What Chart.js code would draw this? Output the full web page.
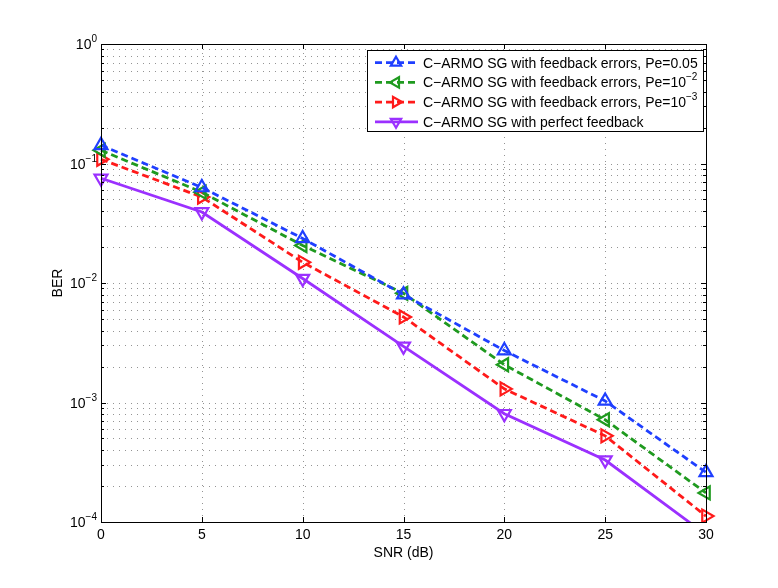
<!DOCTYPE html>
<html>
<head>
<meta charset="utf-8">
<script src="https://cdn.jsdelivr.net/npm/chart.js"></script>
<style>
  html, body { margin: 0; padding: 0; background: #fff; }
  #wrap { width: 778px; height: 588px; }
</style>
</head>
<body>
<div id="wrap"><canvas id="myChart" width="778" height="588"></canvas></div>
<script>
// values
let snr = [0, 5, 10, 15, 20, 25, 30];
let berPe005 = [0.142, 0.063, 0.0236, 0.0080, 0.00272, 0.00103, 0.00026];
let berPe1e2 = [0.129, 0.0575, 0.0206, 0.0082, 0.00207, 0.000717, 0.000175];
let berPe1e3 = [0.1085, 0.0524, 0.0149, 0.0052, 0.0013, 0.000526, 0.000112];
let berPerfect = [0.0752, 0.0393, 0.0109, 0.00295, 0.000805, 0.00033, 0.0000785];

let xTicks = [0, 5, 10, 15, 20, 25, 30];
let yDecades = [-4, -3, -2, -1, 0];

// legend: text, plus optional exponent
let legendText = [
  ['C\u2212ARMO SG with feedback errors, Pe=0.05', ''],
  ['C\u2212ARMO SG with feedback errors, Pe=10', '\u22122'],
  ['C\u2212ARMO SG with feedback errors, Pe=10', '\u22123'],
  ['C\u2212ARMO SG with perfect feedback', '']
];

const FONT = '"Liberation Sans", Arial, Helvetica, sans-serif';

function toPoints(ys){
  return snr.map((x, i) => ({x: x, y: ys[i]}));
}

function makeSet(label, ys, color, rotation, dash){
  return {
    label: label,
    data: toPoints(ys),
    borderColor: color,
    backgroundColor: 'transparent',
    borderWidth: 2.8,
    borderDash: dash,
    pointStyle: 'triangle',
    rotation: rotation,
    pointRadius: 7.5,
    pointBorderWidth: 2.2,
    pointBorderColor: color,
    pointBackgroundColor: 'transparent',
    pointHoverRadius: 7.5,
    tension: 0,
    clip: {left: 12, top: 12, right: 12, bottom: 0}
  };
}

function drawPow(ctx, base, exp, xRight, y, size){
  ctx.font = size + 'px ' + FONT;
  let wb = ctx.measureText(base).width;
  ctx.font = Math.round(size * 0.7) + 'px ' + FONT;
  let we = ctx.measureText(exp).width;
  let x = xRight - wb - we;
  ctx.textAlign = 'left';
  ctx.textBaseline = 'alphabetic';
  ctx.font = size + 'px ' + FONT;
  ctx.fillText(base, x, y);
  ctx.font = Math.round(size * 0.7) + 'px ' + FONT;
  ctx.fillText(exp, x + wb, y - 7);
}

function triangle(ctx, x, y, r, rotation){
  ctx.beginPath();
  for (let i = 0; i < 3; i++) {
    let a = (rotation * Math.PI / 180) + i * 2 * Math.PI / 3 - Math.PI / 2;
    let px = x + r * Math.cos(a);
    let py = y + r * Math.sin(a);
    if (i == 0) ctx.moveTo(px, py); else ctx.lineTo(px, py);
  }
  ctx.closePath();
  ctx.stroke();
}

const gridPlugin = {
  id: 'dottedGrid',
  beforeDatasetsDraw(chart){
    const ctx = chart.ctx;
    const a = chart.chartArea;
    const xs = chart.scales.x;
    const ys = chart.scales.y;
    ctx.save();
    ctx.strokeStyle = 'rgba(0,0,0,0.42)';
    ctx.lineWidth = 1;
    ctx.setLineDash([1, 5]);
    ctx.beginPath();
    xTicks.forEach(v => {
      let px = Math.round(xs.getPixelForValue(v)) + 0.5;
      if (px < a.left + 2 || px > a.right - 2) return;
      ctx.moveTo(px, a.bottom); ctx.lineTo(px, a.top);
    });
    ys.ticks.forEach(t => {
      let py = Math.round(ys.getPixelForValue(t.value)) + 0.5;
      if (py < a.top + 2 || py > a.bottom - 2) return;
      ctx.moveTo(a.left, py); ctx.lineTo(a.right, py);
    });
    ctx.stroke();
    ctx.restore();
  }
};

const axesPlugin = {
  id: 'matlabAxes',
  afterDatasetsDraw(chart){
    const ctx = chart.ctx;
    const a = chart.chartArea;
    const xs = chart.scales.x;
    const ys = chart.scales.y;
    ctx.save();
    ctx.setLineDash([]);
    ctx.strokeStyle = '#000';
    ctx.lineWidth = 1;

    // tick marks, inside the box
    ctx.beginPath();
    xTicks.forEach(v => {
      let px = Math.round(xs.getPixelForValue(v)) + 0.5;
      ctx.moveTo(px, a.bottom); ctx.lineTo(px, a.bottom - 5);
      ctx.moveTo(px, a.top); ctx.lineTo(px, a.top + 5);
    });
    ys.ticks.forEach(t => {
      let py = Math.round(ys.getPixelForValue(t.value)) + 0.5;
      let len = t.major ? 5 : 3;
      ctx.moveTo(a.left, py); ctx.lineTo(a.left + len, py);
      ctx.moveTo(a.right, py); ctx.lineTo(a.right - len, py);
    });
    ctx.stroke();

    // box
    ctx.strokeRect(Math.round(a.left) + 0.5, Math.round(a.top) + 0.5,
      Math.round(a.right - a.left), Math.round(a.bottom - a.top));

    // tick labels
    ctx.fillStyle = '#000';
    ctx.font = '14px ' + FONT;
    ctx.textAlign = 'center';
    ctx.textBaseline = 'middle';
    xTicks.forEach(v => {
      ctx.fillText(String(v), xs.getPixelForValue(v), a.bottom + 13);
    });
    yDecades.forEach(d => {
      let py = ys.getPixelForValue(Math.pow(10, d));
      drawPow(ctx, '10', d == 0 ? '0' : '\u2212' + (-d), a.left - 4, py + 5, 14);
    });

    // axis titles
    ctx.font = '14px ' + FONT;
    ctx.textAlign = 'center';
    ctx.textBaseline = 'middle';
    ctx.fillText('SNR (dB)', (a.left + a.right) / 2, a.bottom + 31);
    ctx.save();
    ctx.translate(58, (a.top + a.bottom) / 2);
    ctx.rotate(-Math.PI / 2);
    ctx.fillText('BER', 0, 0);
    ctx.restore();

    // legend
    const lx = 367, ly = 50, lw = 336, lh = 81;
    ctx.fillStyle = '#fff';
    ctx.fillRect(lx, ly, lw, lh);
    ctx.strokeStyle = '#000';
    ctx.lineWidth = 1;
    ctx.strokeRect(lx + 0.5, ly + 0.5, lw, lh);
    chart.data.datasets.forEach((ds, i) => {
      let cy = ly + 12.7 + i * 19.7;
      ctx.strokeStyle = ds.borderColor;
      ctx.lineWidth = 2.8;
      ctx.setLineDash(ds.borderDash);
      ctx.beginPath();
      ctx.moveTo(375, cy); ctx.lineTo(418, cy);
      ctx.stroke();
      ctx.setLineDash([]);
      ctx.lineWidth = 2.2;
      triangle(ctx, 396, cy, 6, ds.rotation);
      ctx.fillStyle = '#000';
      ctx.font = '14px ' + FONT;
      ctx.textAlign = 'left';
      ctx.textBaseline = 'middle';
      let t = legendText[i];
      ctx.fillText(t[0], 423, cy + 1);
      if (t[1]) {
        let w = ctx.measureText(t[0]).width;
        ctx.font = '10px ' + FONT;
        ctx.fillText(t[1], 423 + w, cy - 5);
      }
    });
    ctx.restore();
  }
};

function init(){
  const ctx = document.getElementById('myChart');
  new Chart(ctx, {
    type: 'line',
    data: {
      datasets: [
        makeSet('Pe=0.05', berPe005, '#1f3fff', 0, [7, 4]),
        makeSet('Pe=1e-2', berPe1e2, '#1f9a1f', 270, [7, 4]),
        makeSet('Pe=1e-3', berPe1e3, '#ff1a1a', 90, [7, 4]),
        makeSet('perfect', berPerfect, '#9b30ff', 180, [])
      ]
    },
    options: {
      responsive: false,
      animation: false,
      events: [],
      layout: { padding: { left: 101, top: 44, right: 72, bottom: 66 } },
      plugins: { legend: { display: false }, tooltip: { enabled: false } },
      scales: {
        x: {
          type: 'linear',
          min: 0,
          max: 30,
          afterBuildTicks: (scale) => { scale.ticks = xTicks.map(v => ({value: v})); },
          ticks: { display: false },
          grid: { display: false, drawTicks: false },
          border: { display: false }
        },
        y: {
          type: 'logarithmic',
          min: 1e-4,
          max: 1,
          afterBuildTicks: (scale) => {
            let t = [];
            yDecades.forEach(d => {
              for (let m = 1; m <= 9; m++) {
                let v = m * Math.pow(10, d);
                if (v > 1.0000001) break;
                t.push({value: v, major: m == 1});
              }
            });
            scale.ticks = t;
          },
          ticks: { display: false },
          grid: { display: false, drawTicks: false },
          border: { display: false }
        }
      }
    },
    plugins: [gridPlugin, axesPlugin]
  });
}

init();
</script>
</body>
</html>
